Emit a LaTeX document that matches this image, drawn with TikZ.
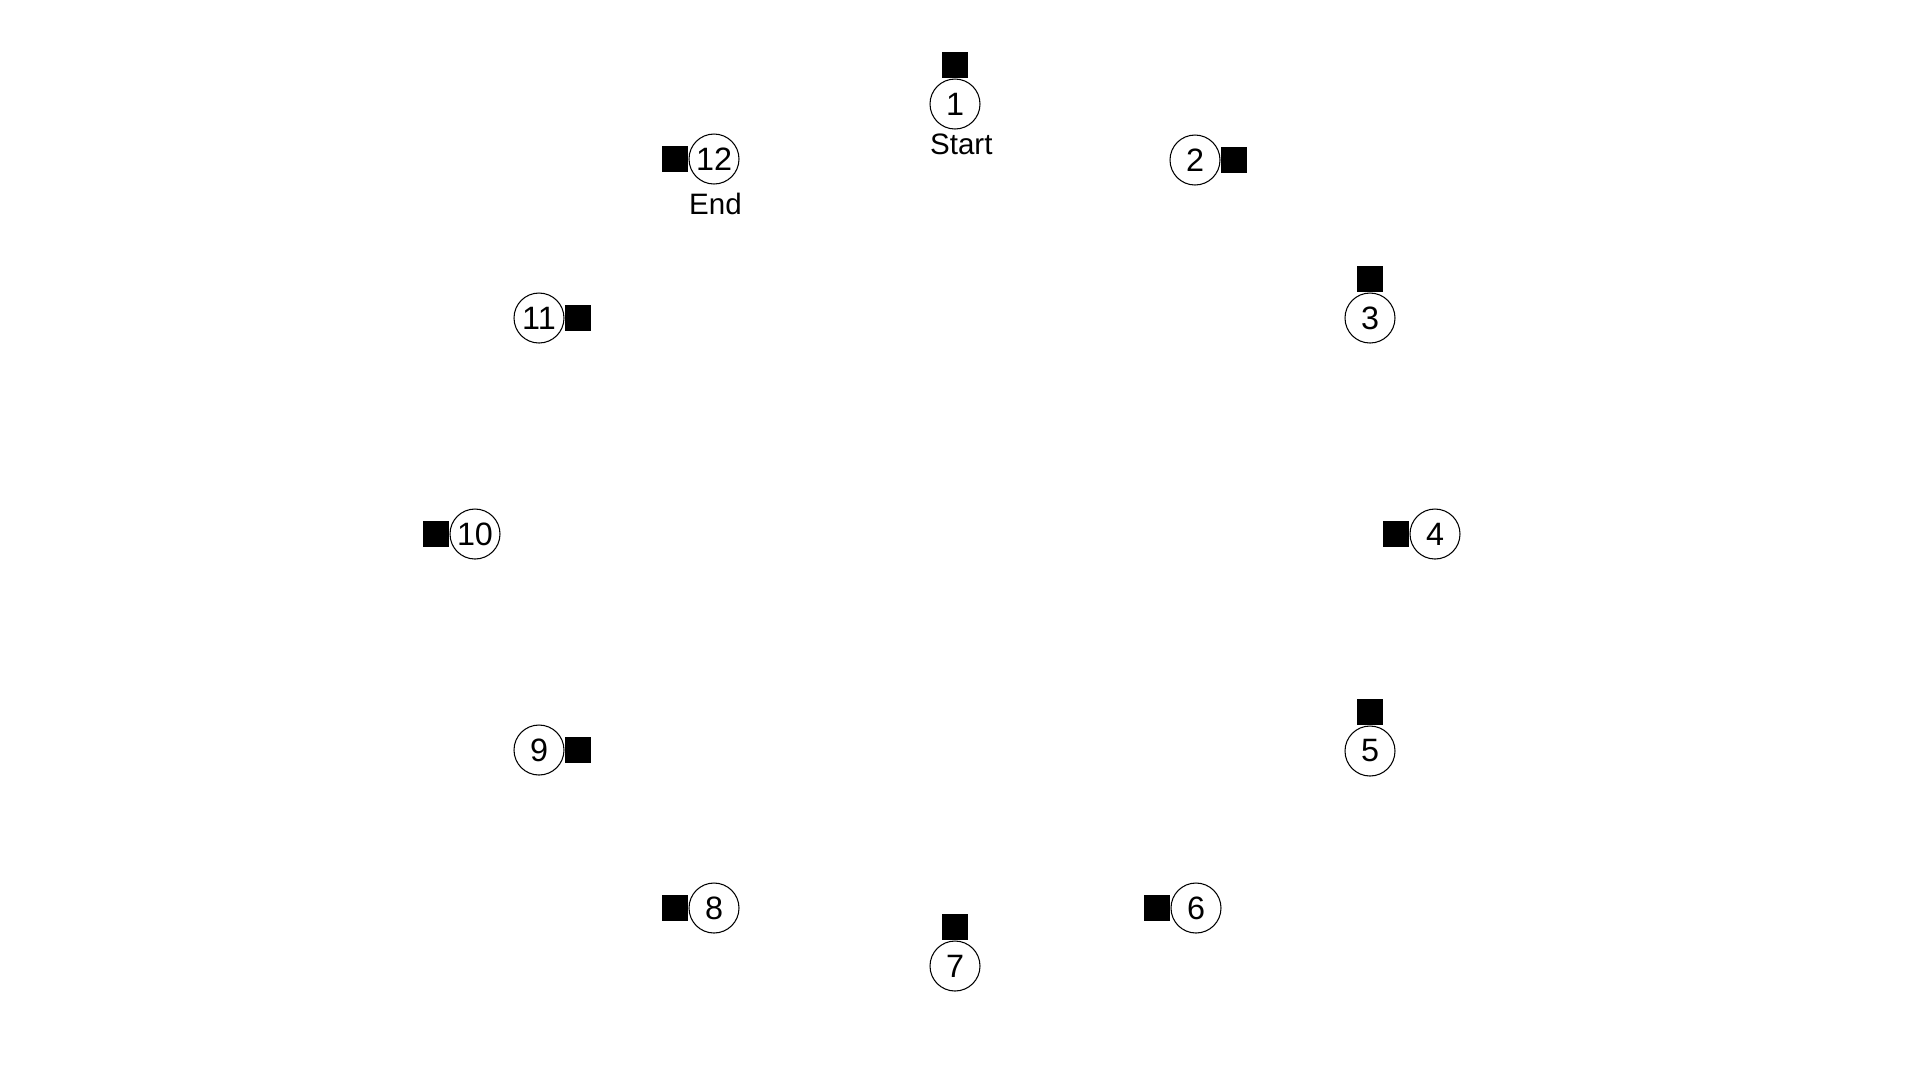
\documentclass[tikz,border=0pt]{standalone}
\usepackage{fontspec}
\setmainfont{Liberation Sans}
\usetikzlibrary{positioning}
\definecolor{Paper}{HTML}{FFFFFF}
\definecolor{Ink}{HTML}{000000}
\tikzset{
  stopnode/.style={draw=Ink,fill=Paper,circle,minimum size=5mm,inner sep=0pt,line width=0.3pt,font=\fontsize{9.2}{11}\selectfont,text=Ink},
  markbox/.style={fill=Ink,rectangle,minimum size=2.6mm,inner sep=0pt},
  tagtext/.style={inner sep=0pt,font=\fontsize{8.4}{10}\selectfont,text=Ink,anchor=north west}
}
\begin{document}
\begin{tikzpicture}[x=0.1mm,y=-0.1mm,node distance=0pt]
  \fill[Paper] (0,0) rectangle (1920,1080);
  \useasboundingbox (0,0) rectangle (1920,1080);
  % stops round the ring
  \node[stopnode] (n1) at (955,104) {1};
  \node[stopnode] (n2) at (1195,160) {2};
  \node[stopnode] (n3) at (1370,318) {3};
  \node[stopnode] (n4) at (1435,534) {4};
  \node[stopnode] (n5) at (1370,751) {5};
  \node[stopnode] (n6) at (1196,908) {6};
  \node[stopnode] (n7) at (955,966) {7};
  \node[stopnode] (n8) at (714,908) {8};
  \node[stopnode] (n9) at (539,750) {9};
  \node[stopnode] (n10) at (475,534) {10};
  \node[stopnode] (n11) at (539,318) {11};
  \node[stopnode] (n12) at (714,159) {12};
  % black markers
  \node[markbox,above=of n1] (m1) {};
  \node[markbox,right=of n2] (m2) {};
  \node[markbox,above=of n3] (m3) {};
  \node[markbox,left=of n4] (m4) {};
  \node[markbox,above=of n5] (m5) {};
  \node[markbox,left=of n6] (m6) {};
  \node[markbox,above=of n7] (m7) {};
  \node[markbox,left=of n8] (m8) {};
  \node[markbox,right=of n9] (m9) {};
  \node[markbox,left=of n10] (m10) {};
  \node[markbox,right=of n11] (m11) {};
  \node[markbox,left=of n12] (m12) {};
  % labels
  \node[tagtext] (start) at ([yshift=-2.9mm]n1.west) {Start};
  \node[tagtext] (finish) at ([yshift=-3.3mm]n12.west) {End};
\end{tikzpicture}
\end{document}
